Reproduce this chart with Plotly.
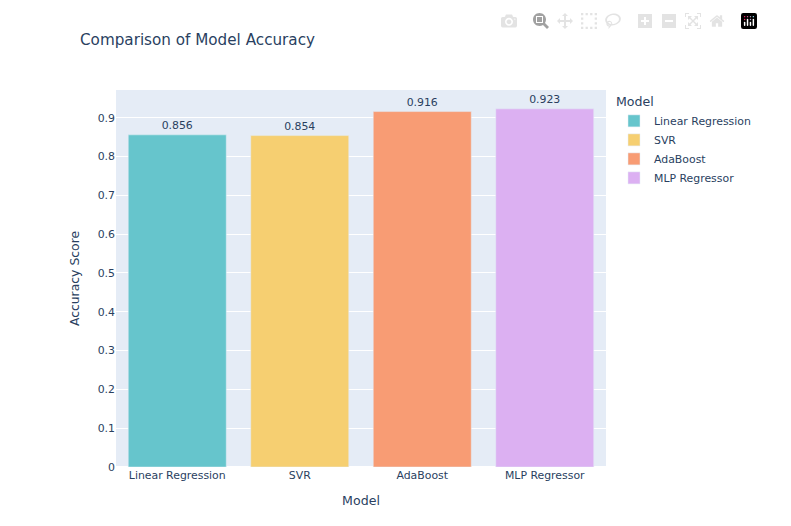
import plotly.graph_objects as go

models = ["Linear Regression", "SVR", "AdaBoost", "MLP Regressor"]
accuracy = [0.856, 0.854, 0.916, 0.923]
colors = ["rgb(102,197,204)", "rgb(246,207,113)", "rgb(248,156,116)", "rgb(220,176,242)"]

fig = go.Figure()
for m, a, c in zip(models, accuracy, colors):
    fig.add_trace(go.Bar(x=[m], y=[a], name=m, marker_color=c, text=[f"{a:.3f}"],
                         textposition="outside", cliponaxis=False, legendgroup=m))
fig.update_layout(
    template="plotly",
    width=755, height=510,
    title=dict(text="Comparison of Model Accuracy", x=72/755, xanchor="left",
               y=1-32/510, yanchor="middle", font=dict(size=15.2)),
    barmode="relative",
    legend=dict(title=dict(text="Model", font=dict(size=12.6)), tracegroupgap=0,
                xref="container", yref="container", x=606/755, y=1-82/510,
                xanchor="left", yanchor="top"),
    margin=dict(l=108, r=157, t=82, b=51, autoexpand=False),
    font=dict(family='Verdana, "DejaVu Sans", sans-serif', size=10.9),
    xaxis=dict(title=dict(text="Model", font=dict(size=12.6)), categoryorder="array", categoryarray=models),
    yaxis=dict(title=dict(text="Accuracy Score", font=dict(size=12.4))),
    modebar=dict(color="rgba(68,68,68,0.15)", activecolor="rgba(68,68,68,0.5)"),
)
fig.write_html("out.html", config={"displayModeBar": True})
